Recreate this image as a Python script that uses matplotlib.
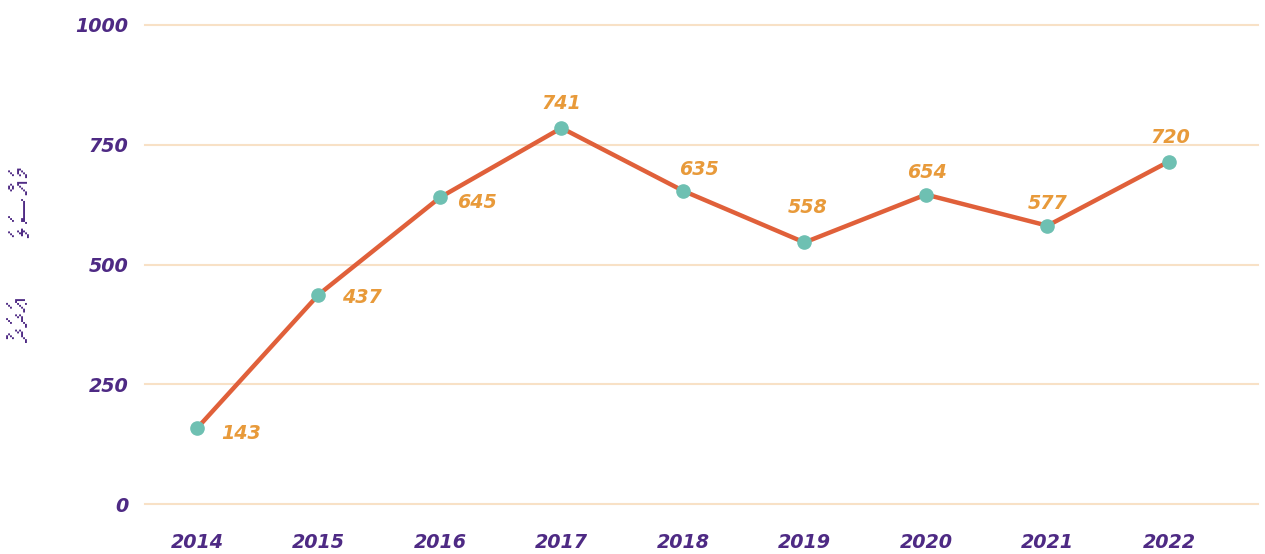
import matplotlib
matplotlib.use("Agg")
import matplotlib.pyplot as plt
from matplotlib import font_manager
from matplotlib.ft2font import FT2Font
import unicodedata

# ---- data ----
years = ["2014", "2015", "2016", "2017", "2018", "2019", "2020", "2021", "2022"]
values = [158, 437, 640, 785, 654, 546, 646, 581, 715]
value_labels = ["143", "437", "645", "741", "635", "558", "654", "577", "720"]
y_ticks = [0, 250, 500, 750, 1000]
y_title_words = ["މައްސަލަ", "ޢަދަދު"]

# label offsets in pixels (style)
label_offsets = [(44, -5), (43, -3), (37, -5), (0, 24), (16, 21), (3, 35), (1, 22), (0, 22), (1, 24)]

PURPLE = "#4E2A84"
ORANGE = "#E89A3A"
LINE = "#E0603A"
TEAL = "#6EC0B2"
GRID = "#F8E1C6"

num_font = dict(family="DejaVu Sans", weight="bold", style="oblique")
NUM_SIZE = 13.8

# find a font with Thaana glyphs
thaana_family = None
for f in font_manager.fontManager.ttflist:
    try:
        cm = FT2Font(f.fname).get_charmap()
    except Exception:
        continue
    if 0x0784 in cm and 0x07A6 in cm:
        thaana_family = f.name
        break


def visual_rtl(s):
    clusters = []
    for ch in s:
        if clusters and unicodedata.combining(ch):
            clusters[-1] += ch
        else:
            clusters.append(ch)
    return "".join(reversed(clusters))


fig = plt.figure(figsize=(12.65, 5.54), dpi=100)
ax = fig.add_axes([145 / 1265, 50 / 554, 1113 / 1265, 479 / 554])
x = list(range(len(years)))
ax.set_xlim(-0.428, 8.733)
ax.set_ylim(0, 1000)
for s in ax.spines.values():
    s.set_visible(False)
ax.set_yticks(y_ticks)
ax.set_yticklabels([str(v) for v in y_ticks], color=PURPLE, fontsize=NUM_SIZE, **num_font)
ax.set_xticks(x)
ax.set_xticklabels(years, color=PURPLE, fontsize=NUM_SIZE, **num_font)
ax.tick_params(axis="y", length=0, pad=12)
ax.tick_params(axis="x", length=0, pad=21)
ax.grid(axis="y", color=GRID, linewidth=1.5, clip_on=False)
ax.set_axisbelow(True)
for gl in ax.get_ygridlines():
    gl.set_clip_on(False)

ax.plot(x, values, color=LINE, linewidth=3.2, zorder=3, clip_on=False,
        solid_capstyle="round", solid_joinstyle="round")
ax.plot(x, values, linestyle="none", marker="o", markersize=9.5,
        markerfacecolor=TEAL, markeredgecolor=TEAL, zorder=4, clip_on=False)

for xi, v, lab, off in zip(x, values, value_labels, label_offsets):
    ax.annotate(lab, (xi, v), xytext=off, textcoords="offset pixels",
                ha="center", va="center", color=ORANGE, fontsize=NUM_SIZE, **num_font)

fam = [thaana_family, "DejaVu Sans"] if thaana_family else ["DejaVu Sans"]
for word, yc in zip(y_title_words, [200, 319]):
    fig.text(24 / 1265, 1 - yc / 554, visual_rtl(word), rotation=90,
             ha="center", va="center", color=PURPLE, fontsize=22, family=fam,
             fontweight="bold")

fig.savefig("out.png", dpi=100)
